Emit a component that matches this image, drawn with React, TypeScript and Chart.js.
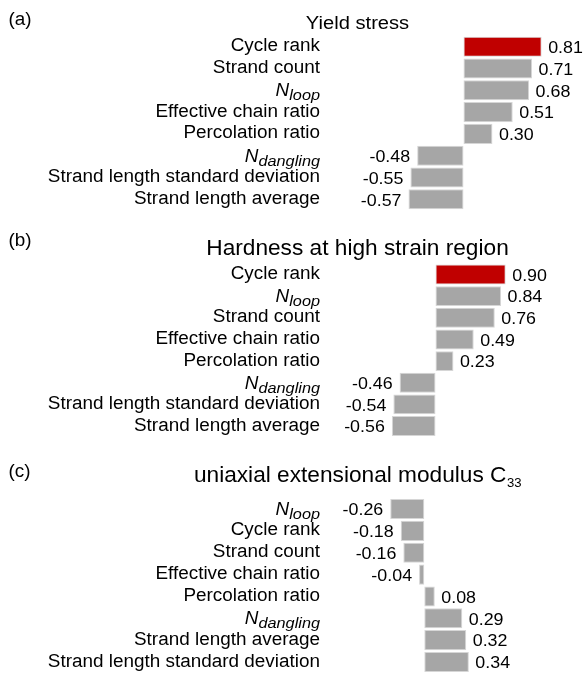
import React, { useEffect, useRef } from 'react';
import { Chart, registerables } from 'chart.js';

Chart.register(...registerables);

// ---------- data ----------
const catsA = ['Cycle rank', 'Strand count', 'N_loop', 'Effective chain ratio', 'Percolation ratio', 'N_dangling', 'Strand length standard deviation', 'Strand length average'];
const valsA = [0.81, 0.71, 0.68, 0.51, 0.30, -0.48, -0.55, -0.57];
const highlightA = [0];

const catsB = ['Cycle rank', 'N_loop', 'Strand count', 'Effective chain ratio', 'Percolation ratio', 'N_dangling', 'Strand length standard deviation', 'Strand length average'];
const valsB = [0.90, 0.84, 0.76, 0.49, 0.23, -0.46, -0.54, -0.56];
const highlightB = [0];

const catsC = ['N_loop', 'Cycle rank', 'Strand count', 'Effective chain ratio', 'Percolation ratio', 'N_dangling', 'Strand length average', 'Strand length standard deviation'];
const valsC = [-0.26, -0.18, -0.16, -0.04, 0.08, 0.29, 0.32, 0.34];
const highlightC: number[] = [];

const titleA = 'Yield stress';
const titleB = 'Hardness at high strain region';
const titleC = 'uniaxial extensional modulus C';
const titleSubC = '33';

// ---------- style / layout ----------
const FONT = '"Liberation Sans", Arial, Helvetica, sans-serif';
const SX = 1.05;
const RED = '#c00000';
const GRAY = '#a6a6a6';
const EDGE = '#d6d6d6';
const TEXT = '#000000';
const W = 584;
const LABEL_RIGHT = 320;
const TITLE_CX = 357.5;
const LETTER_X = 8.5;

type Panel = {
  cats: string[]; vals: number[]; highlight: number[];
  title: string; titleSub?: string; letter: string;
  top: number; height: number;
  zero: number; ppu: number; min: number; max: number;
  firstCenter: number; pitch: number;
  titleSize: number; titleBaseline: number; letterBaseline: number;
};

const PANELS: Panel[] = [
  { cats: catsA, vals: valsA, highlight: highlightA, title: titleA, letter: '(a)',
    top: 0, height: 220, zero: 463.5, ppu: 96.5, min: -1.0, max: 1.2,
    firstCenter: 46.7, pitch: 21.8, titleSize: 19.2, titleBaseline: 28.5, letterBaseline: 24.6 },
  { cats: catsB, vals: valsB, highlight: highlightB, title: titleB, letter: '(b)',
    top: 220, height: 230, zero: 435.5, ppu: 78, min: -1.2, max: 1.5,
    firstCenter: 54.5, pitch: 21.65, titleSize: 21.6, titleBaseline: 35.3, letterBaseline: 25.6 },
  { cats: catsC, vals: valsC, highlight: highlightC, title: titleC, titleSub: titleSubC, letter: '(c)',
    top: 450, height: 224, zero: 424.3, ppu: 131, min: -0.5, max: 1.0,
    firstCenter: 59, pitch: 21.86, titleSize: 21.6, titleBaseline: 32, letterBaseline: 27 },
];

function drawScaled(ctx: CanvasRenderingContext2D, text: string, x: number, y: number, font: string, align: CanvasTextAlign) {
  ctx.save();
  ctx.font = font;
  ctx.fillStyle = TEXT;
  ctx.textAlign = align;
  ctx.textBaseline = 'alphabetic';
  ctx.translate(x, y);
  ctx.scale(SX, 1);
  ctx.fillText(text, 0, 0);
  ctx.restore();
}

function measure(ctx: CanvasRenderingContext2D, text: string, font: string) {
  ctx.save();
  ctx.font = font;
  const w = ctx.measureText(text).width * SX;
  ctx.restore();
  return w;
}

function labelPlugin(p: Panel) {
  return {
    id: 'customLabels',
    afterDraw(chart: any) {
      const ctx: CanvasRenderingContext2D = chart.ctx;
      const xs = chart.scales.x;
      const ys = chart.scales.y;
      const catFont = `18px ${FONT}`;
      const nFont = `italic 18px ${FONT}`;
      const subFont = `italic 15.5px ${FONT}`;
      const valFont = `17px ${FONT}`;

      p.cats.forEach((c, i) => {
        const cy = ys.getPixelForValue(i);
        if (c.startsWith('N_')) {
          const sub = c.slice(2);
          const ws = measure(ctx, sub, subFont);
          drawScaled(ctx, sub, LABEL_RIGHT, cy + 9.8, subFont, 'right');
          drawScaled(ctx, 'N', LABEL_RIGHT - ws, cy + 6, nFont, 'right');
        } else {
          drawScaled(ctx, c, LABEL_RIGHT, cy + 4.5, catFont, 'right');
        }
        const v = p.vals[i];
        const xe = xs.getPixelForValue(v);
        const txt = v.toFixed(2);
        if (v >= 0) drawScaled(ctx, txt, xe + 6.5, cy + 6.3, valFont, 'left');
        else drawScaled(ctx, txt, xe - 7, cy + 6.3, valFont, 'right');
      });

      // title
      const tFont = `${p.titleSize}px ${FONT}`;
      if (p.titleSub) {
        const sFont = `${(p.titleSize * 0.58).toFixed(1)}px ${FONT}`;
        const wm = measure(ctx, p.title, tFont);
        const wsub = measure(ctx, p.titleSub, sFont);
        const left = TITLE_CX - (wm + wsub) / 2;
        drawScaled(ctx, p.title, left, p.titleBaseline, tFont, 'left');
        drawScaled(ctx, p.titleSub, left + wm + 0.5, p.titleBaseline + 5, sFont, 'left');
      } else {
        drawScaled(ctx, p.title, TITLE_CX, p.titleBaseline, tFont, 'center');
      }
      // panel letter
      drawScaled(ctx, p.letter, LETTER_X, p.letterBaseline, `18px ${FONT}`, 'left');
    },
  };
}

function makeChart(canvas: HTMLCanvasElement, p: Panel) {
  const left = p.zero + p.min * p.ppu;
  const right = p.zero + p.max * p.ppu;
  const n = p.cats.length;
  const top = p.firstCenter - p.pitch / 2;
  const bottom = top + n * p.pitch;
  return new Chart(canvas, {
    type: 'bar',
    data: {
      labels: p.cats,
      datasets: [{
        data: p.vals,
        backgroundColor: p.vals.map((_, i) => (p.highlight.includes(i) ? RED : GRAY)),
        borderColor: EDGE,
        borderWidth: 1,
        borderSkipped: false,
        categoryPercentage: 1,
        barPercentage: 0.92,
      }],
    },
    options: {
      indexAxis: 'y',
      responsive: false,
      maintainAspectRatio: false,
      animation: false,
      devicePixelRatio: 1,
      events: [],
      layout: { padding: { left, right: W - right, top, bottom: p.height - bottom } },
      scales: {
        x: { display: false, min: p.min, max: p.max },
        y: { display: false },
      },
      plugins: {
        legend: { display: false },
        tooltip: { enabled: false },
        title: { display: false },
      },
    } as any,
    plugins: [labelPlugin(p)],
  });
}

export default function App() {
  const r0 = useRef<HTMLCanvasElement>(null);
  const r1 = useRef<HTMLCanvasElement>(null);
  const r2 = useRef<HTMLCanvasElement>(null);
  const refs = [r0, r1, r2];

  useEffect(() => {
    document.body.style.margin = '0';
    document.body.style.background = '#ffffff';
    const charts = PANELS.map((p, i) => makeChart(refs[i].current as HTMLCanvasElement, p));
    return () => charts.forEach((c) => c.destroy());
  }, []);

  return (
    <div style={{ position: 'relative', width: W, height: 674, background: '#ffffff', overflow: 'hidden' }}>
      {PANELS.map((p, i) => (
        <canvas
          key={i}
          ref={refs[i]}
          width={W}
          height={p.height}
          style={{ position: 'absolute', left: 0, top: p.top, width: W, height: p.height }}
        />
      ))}
    </div>
  );
}
